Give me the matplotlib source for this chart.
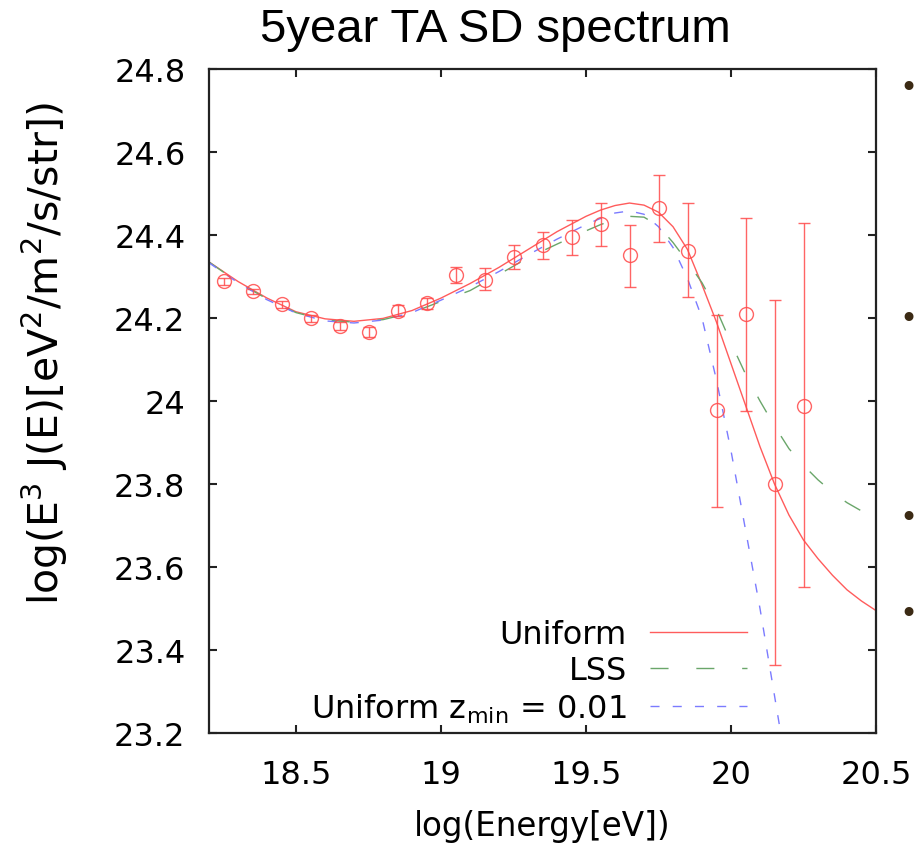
import matplotlib
matplotlib.use("Agg")
import matplotlib.pyplot as plt
import numpy as np

plt.rcParams['font.family'] = ['DejaVu Sans']
plt.rcParams['mathtext.default'] = 'regular'
plt.rcParams['mathtext.fontset'] = 'dejavusans'
plt.rcParams['lines.scale_dashes'] = False

# ---- data points (TA SD 5 year) ----
x_data = [18.25, 18.35, 18.45, 18.55, 18.65, 18.75, 18.85, 18.95, 19.05, 19.15,
          19.25, 19.35, 19.45, 19.55, 19.65, 19.75, 19.85, 19.95, 20.05, 20.15, 20.25]
y_data = [24.288, 24.264, 24.233, 24.199, 24.180, 24.166, 24.218, 24.235, 24.303, 24.292,
          24.347, 24.377, 24.395, 24.426, 24.352, 24.466, 24.362, 23.978, 24.210, 23.800, 23.987]
y_lo = [24.280, 24.257, 24.225, 24.190, 24.170, 24.154, 24.204, 24.221, 24.284, 24.267,
        24.318, 24.342, 24.352, 24.373, 24.275, 24.384, 24.250, 23.744, 23.977, 23.365, 23.551]
y_hi = [24.296, 24.271, 24.241, 24.208, 24.190, 24.178, 24.232, 24.249, 24.322, 24.320,
        24.377, 24.408, 24.435, 24.476, 24.424, 24.545, 24.476, 24.208, 24.440, 24.243, 24.430]

# ---- model curves ----
curve_x = [18.2, 18.3, 18.4, 18.5, 18.6, 18.7, 18.8, 18.9, 19.0, 19.1, 19.2, 19.3, 19.4, 19.5,
           19.55, 19.6, 19.65, 19.7, 19.75, 19.8, 19.85, 19.9, 19.95, 20.0, 20.05, 20.1,
           20.15, 20.2, 20.25, 20.3, 20.35, 20.4, 20.45, 20.5]
uniform_y = [24.335, 24.288, 24.248, 24.215, 24.198, 24.192, 24.199, 24.218, 24.248, 24.283,
             24.322, 24.365, 24.408, 24.445, 24.460, 24.471, 24.477, 24.472, 24.455, 24.420,
             24.365, 24.280, 24.190, 24.090, 23.990, 23.890, 23.800, 23.725, 23.665, 23.620,
             23.580, 23.545, 23.518, 23.495]
lss_y = [24.335, 24.286, 24.246, 24.213, 24.195, 24.190, 24.196, 24.213, 24.240, 24.266,
         24.305, 24.345, 24.378, 24.410, 24.425, 24.437, 24.445, 24.443, 24.422, 24.382,
         24.335, 24.285, 24.220, 24.140, 24.065, 24.000, 23.940, 23.885, 23.845, 23.810,
         23.780, 23.755, 23.735, 23.720]
zmin_x = curve_x[:28]
zmin_y = [24.333, 24.285, 24.244, 24.212, 24.193, 24.188, 24.195, 24.213, 24.243, 24.275,
          24.312, 24.352, 24.390, 24.425, 24.440, 24.453, 24.458, 24.450, 24.420, 24.370,
          24.295, 24.200, 24.050, 23.880, 23.690, 23.500, 23.290, 23.080]

labels = ['Uniform', 'LSS', r'Uniform z$_{\rm min}$ = 0.01']
xticks = [18.5, 19, 19.5, 20, 20.5]
xtick_labels = ['18.5', '19', '19.5', '20', '20.5']
yticks = [23.2, 23.4, 23.6, 23.8, 24.0, 24.2, 24.4, 24.6, 24.8]
ytick_labels = ['23.2', '23.4', '23.6', '23.8', '24', '24.2', '24.4', '24.6', '24.8']

RED = '#ff4a4a'
GREEN = '#6aa66a'
BLUE = '#7b7bff'

fig = plt.figure(figsize=(9.18, 8.45), dpi=100)
ax = fig.add_axes([209/918, 1-734/845, 667/918, 664/845])

l1, = ax.plot(curve_x, uniform_y, color=RED, lw=1.0, alpha=0.9)
l2, = ax.plot(curve_x, lss_y, color=GREEN, lw=1.0, dashes=(13, 20))
l3, = ax.plot(zmin_x, zmin_y, color=BLUE, lw=1.0, dashes=(6.5, 9.5))

yd = np.array(y_data)
yerr = [yd - np.array(y_lo), np.array(y_hi) - yd]
ax.errorbar(x_data, y_data, yerr=yerr, fmt='o', mfc='none', mec=RED, ms=10, mew=1.0,
            ecolor=RED, elinewidth=1.0, capsize=4.3, capthick=1.0, alpha=0.85)

ax.set_xlim(18.2, 20.5)
ax.set_ylim(23.2, 24.8)
ax.set_xticks(xticks)
ax.set_xticklabels(xtick_labels)
ax.set_yticks(yticks)
ax.set_yticklabels(ytick_labels)
ax.tick_params(direction='in', length=6, width=1.5, labelsize=23, top=True, right=True,
               color='#222222')
ax.tick_params(axis='y', pad=17)
ax.tick_params(axis='x', pad=19)
for s in ax.spines.values():
    s.set_linewidth(1.6)
    s.set_color('#222222')

ax.set_xlabel('log(Energy[eV])', fontsize=23.5)
ax.xaxis.set_label_coords(0.5, -0.114)

leg = ax.legend([l1, l2, l3], labels, loc='lower right', bbox_to_anchor=(0.807, 0.012),
                frameon=False, markerfirst=False, fontsize=23, handlelength=3.05,
                handletextpad=0.72, labelspacing=0.17, borderpad=0, borderaxespad=0)

fig.text(45/918, 1-353/845, r'log(E$^3$ J(E)[eV$^2$/m$^2$/s/str])', rotation=90,
         ha='center', va='center', fontsize=29.5)
fig.text(495/918, 1-42/845, '5year TA SD spectrum', family='Liberation Sans',
         fontsize=34, ha='center', va='baseline')

for by in [88, 320, 518, 615]:
    fig.text(0.999, 1-by/845, '\u2022', fontsize=22, color='#3b2a14',
             ha='right', va='center')

fig.savefig('out.png', dpi=100)
